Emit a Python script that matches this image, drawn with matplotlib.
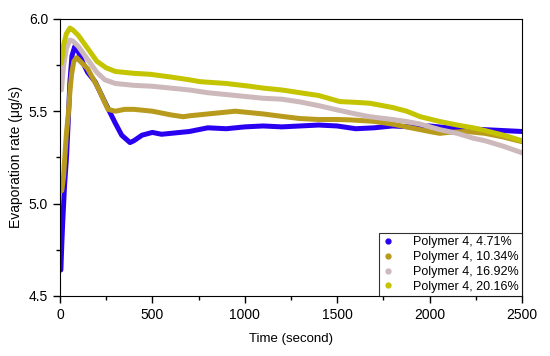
import matplotlib.pyplot as plt
from matplotlib.ticker import MultipleLocator

# time (s) and evaporation rate (ug/s)
t_471 = [5, 10, 15, 25, 36, 45, 54, 65, 80, 100, 125, 150, 190, 243, 297, 334, 379, 400, 444,
         500, 550, 600, 650, 700, 800, 900, 1000, 1100, 1200, 1300, 1400, 1500, 1600, 1700,
         1800, 1900, 2000, 2100, 2200, 2300, 2400, 2500]
r_471 = [4.64, 4.78, 4.90, 5.10, 5.26, 5.45, 5.66, 5.80, 5.85, 5.82, 5.76, 5.71, 5.66, 5.55, 5.44,
         5.37, 5.33, 5.34, 5.37, 5.385, 5.375, 5.38, 5.385, 5.39, 5.41, 5.405, 5.415, 5.42, 5.415,
         5.42, 5.425, 5.42, 5.405, 5.41, 5.42, 5.415, 5.42, 5.41, 5.405, 5.40, 5.395, 5.39]

t_1034 = [10, 20, 27, 35, 45, 55, 63, 75, 90, 110, 150, 207, 260, 300, 350, 400, 450, 500, 550,
          600, 667, 700, 800, 900, 948, 1000, 1100, 1217, 1300, 1400, 1500, 1569, 1700, 1800,
          1900, 2000, 2056, 2100, 2200, 2300, 2400, 2500]
r_1034 = [5.07, 5.15, 5.26, 5.38, 5.48, 5.62, 5.70, 5.77, 5.79, 5.77, 5.73, 5.625, 5.51, 5.50,
          5.51, 5.51, 5.505, 5.50, 5.49, 5.48, 5.47, 5.475, 5.485, 5.495, 5.50, 5.495, 5.485,
          5.47, 5.46, 5.455, 5.455, 5.453, 5.445, 5.43, 5.41, 5.39, 5.38, 5.385, 5.39, 5.38,
          5.36, 5.335]

t_1692 = [8, 20, 35, 54, 70, 100, 150, 200, 243, 300, 400, 500, 600, 700, 800, 900, 1000, 1100,
          1200, 1300, 1400, 1500, 1600, 1677, 1800, 1876, 1950, 2056, 2150, 2236, 2300, 2400,
          2500]
r_1692 = [5.615, 5.75, 5.84, 5.885, 5.88, 5.85, 5.78, 5.71, 5.67, 5.65, 5.64, 5.635, 5.625,
          5.615, 5.60, 5.59, 5.58, 5.57, 5.565, 5.55, 5.53, 5.507, 5.485, 5.47, 5.455, 5.444,
          5.43, 5.40, 5.38, 5.354, 5.34, 5.31, 5.275]

t_2016 = [8, 20, 35, 54, 70, 100, 150, 200, 250, 300, 400, 487, 600, 700, 758, 900, 1028, 1100,
          1200, 1299, 1400, 1515, 1600, 1677, 1800, 1876, 1950, 2056, 2150, 2236, 2300, 2400,
          2500]
r_2016 = [5.76, 5.86, 5.92, 5.95, 5.94, 5.91, 5.84, 5.77, 5.735, 5.715, 5.705, 5.70, 5.685,
          5.67, 5.66, 5.65, 5.635, 5.625, 5.615, 5.60, 5.585, 5.552, 5.548, 5.543, 5.52, 5.50,
          5.47, 5.444, 5.425, 5.41, 5.395, 5.37, 5.34]

series = [
    (t_471, r_471, '#2a00f0', 'Polymer 4, 4.71%'),
    (t_1034, r_1034, '#b89a1c', 'Polymer 4, 10.34%'),
    (t_1692, r_1692, '#cdb9bb', 'Polymer 4, 16.92%'),
    (t_2016, r_2016, '#c4c400', 'Polymer 4, 20.16%'),
]

plt.rcParams['font.family'] = ['Liberation Sans', 'DejaVu Sans']

fig = plt.figure(figsize=(5.5, 3.56), dpi=100)
ax = fig.add_axes([0.109, 0.169, 0.840, 0.778])

for t, r, color, label in series:
    ax.plot(t, r, color=color, lw=3.6, solid_capstyle='round', solid_joinstyle='round')
    # legend handle is a small dot like in the original
    ax.plot([], [], ls='none', marker='o', ms=3.5, color=color, label=label)

ax.set_xlim(0, 2500)
ax.set_ylim(4.5, 6.0)
ax.xaxis.set_major_locator(MultipleLocator(500))
ax.xaxis.set_minor_locator(MultipleLocator(250))
ax.yaxis.set_major_locator(MultipleLocator(0.5))
ax.yaxis.set_minor_locator(MultipleLocator(0.25))
ax.yaxis.set_major_formatter(plt.FormatStrFormatter('%.1f'))
ax.tick_params(which='major', direction='out', length=5, width=1, labelsize=10)
ax.tick_params(which='minor', direction='out', length=3, width=1)

ax.set_xlabel('Time (second)', fontsize=9.5, labelpad=8)
ax.set_ylabel('Evaporation rate (μg/s)', fontsize=10, labelpad=4)

leg = ax.legend(loc='lower right', fontsize=9, frameon=True, fancybox=False,
                edgecolor='black', handlelength=1.0, handletextpad=1.5,
                borderpad=0.25, labelspacing=0.22, borderaxespad=0)
leg.get_frame().set_linewidth(0.8)

fig.savefig('out.png', dpi=100)
